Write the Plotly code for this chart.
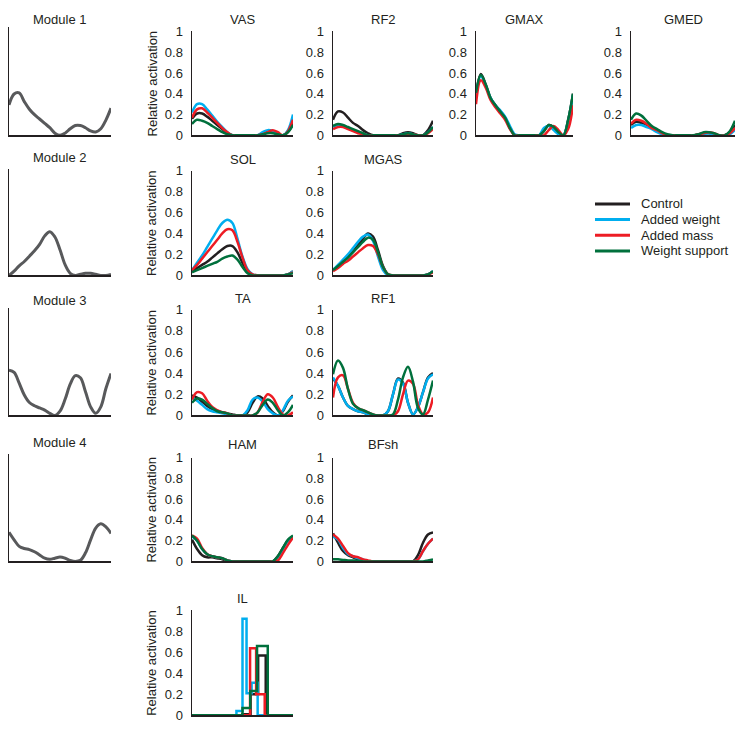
import plotly.graph_objects as go

# ---------------- data ----------------
PCT = [0, 5, 10, 15, 20, 25, 30, 35, 40, 45, 50, 55, 60, 65, 70, 75, 80, 85, 90, 95, 100]
Y_TICKS = [0, 0.2, 0.4, 0.6, 0.8, 1]
Y_TICK_TEXT = ["0", "0.2", "0.4", "0.6", "0.8", "1"]
SERIES = ["Control", "Added weight", "Added mass", "Weight support"]
COLORS = ["#231f20", "#00aeef", "#ed1c24", "#00703c"]

MODULE_1 = [0.28, 0.38, 0.39, 0.31, 0.24, 0.19, 0.15, 0.11, 0.07, 0.02, 0.0, 0.02, 0.06, 0.09, 0.09, 0.07, 0.04, 0.03, 0.06, 0.14, 0.25]
MODULE_2 = [0.0, 0.04, 0.09, 0.13, 0.18, 0.23, 0.29, 0.37, 0.41, 0.36, 0.24, 0.10, 0.02, 0.0, 0.01, 0.02, 0.02, 0.01, 0.0, 0.0, 0.01]
MODULE_3 = [0.42, 0.40, 0.30, 0.19, 0.12, 0.09, 0.07, 0.05, 0.02, 0.0, 0.04, 0.15, 0.29, 0.37, 0.35, 0.22, 0.08, 0.02, 0.08, 0.25, 0.39]
MODULE_4 = [0.27, 0.20, 0.14, 0.12, 0.11, 0.09, 0.06, 0.03, 0.02, 0.03, 0.04, 0.03, 0.01, 0.0, 0.01, 0.08, 0.20, 0.31, 0.35, 0.32, 0.26]

VAS_control = [0.16, 0.21, 0.21, 0.18, 0.14, 0.10, 0.06, 0.02, 0, 0, 0, 0, 0, 0, 0.02, 0.04, 0.03, 0.01, 0, 0.03, 0.12]
VAS_weight = [0.22, 0.30, 0.30, 0.25, 0.19, 0.13, 0.08, 0.03, 0, 0, 0, 0, 0, 0, 0.03, 0.05, 0.04, 0.01, 0, 0.05, 0.20]
VAS_mass = [0.17, 0.25, 0.26, 0.22, 0.17, 0.12, 0.07, 0.03, 0, 0, 0, 0, 0, 0, 0.01, 0.03, 0.05, 0.03, 0, 0.04, 0.15]
VAS_support = [0.11, 0.15, 0.14, 0.12, 0.09, 0.06, 0.03, 0.01, 0, 0, 0, 0, 0, 0, 0.01, 0.02, 0.02, 0.01, 0, 0.03, 0.10]

RF2_control = [0.15, 0.23, 0.22, 0.17, 0.12, 0.09, 0.05, 0.02, 0, 0, 0, 0, 0, 0, 0.02, 0.03, 0.02, 0, 0, 0.05, 0.14]
RF2_weight = [0.08, 0.10, 0.09, 0.07, 0.05, 0.03, 0.01, 0, 0, 0, 0, 0, 0, 0, 0.01, 0.02, 0.01, 0, 0, 0.03, 0.08]
RF2_mass = [0.06, 0.08, 0.08, 0.06, 0.04, 0.02, 0.01, 0, 0, 0, 0, 0, 0, 0, 0, 0.01, 0.01, 0, 0, 0.02, 0.06]
RF2_support = [0.09, 0.11, 0.10, 0.08, 0.06, 0.04, 0.02, 0, 0, 0, 0, 0, 0, 0, 0.01, 0.02, 0.01, 0, 0, 0.03, 0.08]

GMAX_control = [0.40, 0.59, 0.49, 0.36, 0.29, 0.23, 0.17, 0.07, 0, 0, 0, 0, 0, 0, 0.04, 0.10, 0.08, 0.03, 0, 0.15, 0.40]
GMAX_weight = [0.40, 0.57, 0.48, 0.36, 0.29, 0.24, 0.18, 0.09, 0.01, 0, 0, 0, 0, 0, 0.07, 0.09, 0.05, 0.01, 0, 0.14, 0.39]
GMAX_mass = [0.30, 0.53, 0.46, 0.34, 0.27, 0.21, 0.15, 0.06, 0, 0, 0, 0, 0, 0, 0, 0.05, 0.09, 0.05, 0, 0.06, 0.29]
GMAX_support = [0.41, 0.58, 0.49, 0.36, 0.29, 0.23, 0.17, 0.07, 0, 0, 0, 0, 0, 0, 0.04, 0.10, 0.08, 0.03, 0, 0.15, 0.40]

GMED_control = [0.10, 0.13, 0.12, 0.10, 0.07, 0.04, 0.02, 0, 0, 0, 0, 0, 0, 0.01, 0.02, 0.02, 0.01, 0, 0, 0.03, 0.10]
GMED_weight = [0.07, 0.10, 0.10, 0.08, 0.06, 0.03, 0.01, 0, 0, 0, 0, 0, 0, 0, 0.01, 0.02, 0, 0, 0, 0.01, 0.05]
GMED_mass = [0.11, 0.15, 0.14, 0.11, 0.07, 0.05, 0.02, 0, 0, 0, 0, 0, 0, 0.01, 0.02, 0.03, 0.02, 0, 0, 0.02, 0.07]
GMED_support = [0.15, 0.21, 0.19, 0.14, 0.09, 0.06, 0.03, 0.01, 0, 0, 0, 0, 0, 0.01, 0.03, 0.03, 0.02, 0, 0, 0.04, 0.14]

SOL_control = [0.04, 0.07, 0.10, 0.13, 0.17, 0.21, 0.25, 0.28, 0.28, 0.22, 0.12, 0.04, 0, 0, 0, 0, 0, 0, 0, 0.01, 0.04]
SOL_weight = [0.05, 0.12, 0.19, 0.27, 0.35, 0.43, 0.50, 0.53, 0.50, 0.35, 0.18, 0.06, 0.01, 0, 0, 0, 0, 0, 0, 0.01, 0.04]
SOL_mass = [0.05, 0.10, 0.16, 0.22, 0.28, 0.34, 0.40, 0.44, 0.43, 0.32, 0.17, 0.05, 0.01, 0, 0, 0, 0, 0, 0, 0.01, 0.03]
SOL_support = [0.03, 0.05, 0.07, 0.09, 0.11, 0.13, 0.16, 0.18, 0.19, 0.15, 0.08, 0.02, 0, 0, 0, 0, 0, 0, 0, 0.01, 0.02]

MGAS_control = [0.05, 0.09, 0.13, 0.18, 0.23, 0.29, 0.35, 0.40, 0.37, 0.24, 0.09, 0.01, 0, 0, 0, 0, 0, 0, 0, 0.01, 0.04]
MGAS_weight = [0.05, 0.10, 0.15, 0.20, 0.26, 0.32, 0.37, 0.39, 0.33, 0.18, 0.05, 0, 0, 0, 0, 0, 0, 0, 0, 0.01, 0.04]
MGAS_mass = [0.04, 0.07, 0.11, 0.14, 0.18, 0.22, 0.26, 0.29, 0.28, 0.20, 0.08, 0.01, 0, 0, 0, 0, 0, 0, 0, 0.01, 0.03]
MGAS_support = [0.05, 0.09, 0.13, 0.17, 0.22, 0.27, 0.32, 0.36, 0.34, 0.22, 0.08, 0.01, 0, 0, 0, 0, 0, 0, 0, 0.01, 0.04]

TA_control = [0.19, 0.17, 0.13, 0.09, 0.06, 0.04, 0.03, 0.02, 0.01, 0, 0, 0.03, 0.12, 0.18, 0.16, 0.09, 0.03, 0, 0.04, 0.13, 0.19]
TA_weight = [0.17, 0.14, 0.10, 0.06, 0.04, 0.03, 0.02, 0.01, 0, 0, 0, 0.05, 0.15, 0.17, 0.13, 0.06, 0.02, 0, 0.05, 0.14, 0.18]
TA_mass = [0.15, 0.22, 0.21, 0.14, 0.08, 0.05, 0.03, 0.02, 0, 0, 0, 0, 0, 0.03, 0.13, 0.20, 0.17, 0.08, 0.01, 0, 0.03]
TA_support = [0.12, 0.16, 0.15, 0.11, 0.07, 0.04, 0.03, 0.02, 0, 0, 0, 0, 0, 0.03, 0.10, 0.15, 0.12, 0.05, 0, 0.03, 0.10]

RF1_control = [0.35, 0.28, 0.17, 0.09, 0.06, 0.04, 0.03, 0.01, 0, 0, 0, 0.04, 0.20, 0.35, 0.31, 0.12, 0.01, 0.08, 0.22, 0.36, 0.40]
RF1_weight = [0.36, 0.28, 0.17, 0.09, 0.06, 0.04, 0.03, 0.01, 0, 0, 0, 0.04, 0.20, 0.34, 0.30, 0.12, 0.01, 0.08, 0.22, 0.35, 0.39]
RF1_mass = [0.17, 0.36, 0.38, 0.25, 0.12, 0.07, 0.05, 0.03, 0.01, 0, 0, 0, 0, 0.04, 0.20, 0.33, 0.30, 0.10, 0.01, 0.03, 0.17]
RF1_support = [0.39, 0.52, 0.45, 0.25, 0.11, 0.07, 0.05, 0.03, 0.01, 0, 0, 0, 0.01, 0.15, 0.36, 0.46, 0.32, 0.07, 0.01, 0.15, 0.33]

HAM_control = [0.21, 0.12, 0.06, 0.04, 0.04, 0.03, 0.02, 0, 0, 0, 0, 0, 0, 0, 0, 0, 0, 0.05, 0.13, 0.20, 0.24]
HAM_weight = [0.24, 0.20, 0.12, 0.07, 0.05, 0.04, 0.03, 0.01, 0, 0, 0, 0, 0, 0, 0, 0, 0, 0.04, 0.12, 0.20, 0.24]
HAM_mass = [0.25, 0.22, 0.13, 0.07, 0.05, 0.04, 0.03, 0.01, 0, 0, 0, 0, 0, 0, 0, 0, 0, 0.01, 0.08, 0.16, 0.23]
HAM_support = [0.25, 0.20, 0.12, 0.07, 0.05, 0.04, 0.03, 0.01, 0, 0, 0, 0, 0, 0, 0, 0, 0, 0.05, 0.13, 0.21, 0.25]

BFSH_control = [0.27, 0.18, 0.10, 0.06, 0.04, 0.02, 0.01, 0, 0, 0, 0, 0, 0, 0, 0, 0, 0, 0.06, 0.18, 0.26, 0.28]
BFSH_weight = [0.24, 0.21, 0.13, 0.07, 0.05, 0.03, 0.02, 0, 0, 0, 0, 0, 0, 0, 0, 0, 0, 0.02, 0.10, 0.17, 0.22]
BFSH_mass = [0.26, 0.22, 0.15, 0.08, 0.05, 0.04, 0.02, 0.01, 0, 0, 0, 0, 0, 0, 0, 0, 0, 0.02, 0.10, 0.17, 0.22]
BFSH_support = [0.02, 0.02, 0.015, 0.01, 0.01, 0.005, 0, 0, 0, 0, 0, 0, 0, 0, 0, 0, 0, 0, 0, 0.01, 0.02]

# IL is drawn as steps (x = step start, y = level)
IL_control_x = [0, 50, 58, 65.5, 73, 100]
IL_control_y = [0, 0.01, 0.2, 0.57, 0, 0]
IL_weight_x = [0, 44, 50, 54, 59, 65, 100]
IL_weight_y = [0, 0.04, 0.92, 0.21, 0.31, 0, 0]
IL_mass_x = [0, 57.5, 63.5, 72, 100]
IL_mass_y = [0, 0.64, 0.2, 0, 0]
IL_support_x = [0, 50, 57.7, 64.4, 75, 100]
IL_support_y = [0, 0.07, 0.23, 0.66, 0, 0]

# ---------------- layout geometry (pixels) ----------------
W, H = 742, 734
MUSCLE_ROWS = [(25, 131), (167, 274), (309, 417), (460, 566), (616, 723)]
MODULE_ROWS = [(20, 131), (165, 274), (307, 417), (456, 566)]
TITLE_Y = [13, 156, 298, 447, 604]
MODULE_TITLE_Y = [13, 154, 300, 445]
MUSCLE_COLS = [(192, 293), (333, 433), (476, 573), (631, 735)]
MODULE_COL = (9, 111)
FONT = "Arial, Liberation Sans, Helvetica, sans-serif"
INK = "#231f20"

muscles = [
    ("VAS", 0, 0, [VAS_control, VAS_weight, VAS_mass, VAS_support]),
    ("RF2", 0, 1, [RF2_control, RF2_weight, RF2_mass, RF2_support]),
    ("GMAX", 0, 2, [GMAX_control, GMAX_weight, GMAX_mass, GMAX_support]),
    ("GMED", 0, 3, [GMED_control, GMED_weight, GMED_mass, GMED_support]),
    ("SOL", 1, 0, [SOL_control, SOL_weight, SOL_mass, SOL_support]),
    ("MGAS", 1, 1, [MGAS_control, MGAS_weight, MGAS_mass, MGAS_support]),
    ("TA", 2, 0, [TA_control, TA_weight, TA_mass, TA_support]),
    ("RF1", 2, 1, [RF1_control, RF1_weight, RF1_mass, RF1_support]),
    ("HAM", 3, 0, [HAM_control, HAM_weight, HAM_mass, HAM_support]),
    ("BFsh", 3, 1, [BFSH_control, BFSH_weight, BFSH_mass, BFSH_support]),
]
modules = [MODULE_1, MODULE_2, MODULE_3, MODULE_4]
il_series = [(IL_control_x, IL_control_y), (IL_weight_x, IL_weight_y),
             (IL_mass_x, IL_mass_y), (IL_support_x, IL_support_y)]

fig = go.Figure()
layout = dict(width=W, height=H, margin=dict(l=0, r=0, t=0, b=0),
              paper_bgcolor="white", plot_bgcolor="white", showlegend=False,
              font=dict(family=FONT, size=13, color=INK))
annotations = []
shapes = []
ax_i = [0]


def px_x(a, b):
    return [a / W, b / W]


def px_y(t, b):
    return [1 - b / H, 1 - t / H]


def new_axes(xdom, ydom, with_ticks):
    ax_i[0] += 1
    i = ax_i[0]
    xs = "" if i == 1 else str(i)
    layout["xaxis" + xs] = dict(domain=xdom, range=[0, 100], anchor="y" + xs,
                                showline=True, linecolor=INK, linewidth=1.5,
                                showticklabels=False, ticks="", showgrid=False, zeroline=False)
    ydict = dict(domain=ydom, range=[0, 1], anchor="x" + xs,
                 showline=True, linecolor=INK, linewidth=1.5,
                 showgrid=False, zeroline=False)
    if with_ticks:
        ydict.update(tickvals=Y_TICKS, ticktext=Y_TICK_TEXT, ticks="outside",
                     ticklen=5, tickcolor="rgba(0,0,0,0)",
                     tickfont=dict(family=FONT, size=13, color=INK))
    else:
        ydict.update(showticklabels=False, ticks="")
    layout["yaxis" + xs] = ydict
    return "x" + xs, "y" + xs


def title(text, xdom, ypx):
    annotations.append(dict(text=text, x=(xdom[0] + xdom[1]) / 2, y=1 - ypx / H,
                            xref="paper", yref="paper", showarrow=False,
                            xanchor="center", yanchor="middle",
                            font=dict(family=FONT, size=13, color=INK)))


def ylabel(ydom):
    annotations.append(dict(text="Relative activation", x=152 / W, y=(ydom[0] + ydom[1]) / 2,
                            xref="paper", yref="paper", showarrow=False, textangle=-90,
                            xanchor="center", yanchor="middle",
                            font=dict(family=FONT, size=13, color=INK)))


# modules
for r, vals in enumerate(modules):
    xd = px_x(*MODULE_COL)
    yd = px_y(*MODULE_ROWS[r])
    xa, ya = new_axes(xd, yd, False)
    fig.add_trace(go.Scatter(x=PCT, y=vals, mode="lines", xaxis=xa, yaxis=ya,
                             line=dict(color="#58595b", width=3, shape="spline"),
                             hoverinfo="skip"))
    title("Module %d" % (r + 1), xd, MODULE_TITLE_Y[r])

# muscles
for name, r, c, series in muscles:
    xd = px_x(*MUSCLE_COLS[c])
    yd = px_y(*MUSCLE_ROWS[r])
    xa, ya = new_axes(xd, yd, True)
    for k, vals in enumerate(series):
        fig.add_trace(go.Scatter(x=PCT, y=vals, mode="lines", xaxis=xa, yaxis=ya,
                                 name=SERIES[k],
                                 line=dict(color=COLORS[k], width=2.5, shape="spline"),
                                 hoverinfo="skip"))
    title(name, xd, TITLE_Y[r])
    if c == 0:
        ylabel(yd)

# IL
xd = px_x(*MUSCLE_COLS[0])
yd = px_y(*MUSCLE_ROWS[4])
xa, ya = new_axes(xd, yd, True)
for k, (sx, sy) in enumerate(il_series):
    fig.add_trace(go.Scatter(x=sx, y=sy, mode="lines", xaxis=xa, yaxis=ya,
                             name=SERIES[k],
                             line=dict(color=COLORS[k], width=2.5, shape="hv"),
                             hoverinfo="skip"))
title("IL", xd, TITLE_Y[4])
ylabel(yd)

# legend (manual)
LEG_Y = [201, 217, 233, 249]
for k, name in enumerate(SERIES):
    yp = 1 - LEG_Y[k] / H
    shapes.append(dict(type="line", xref="paper", yref="paper",
                       x0=595 / W, x1=630 / W, y0=yp, y1=yp,
                       line=dict(color=COLORS[k], width=3)))
    annotations.append(dict(text=name, x=639 / W, y=yp, xref="paper", yref="paper",
                            showarrow=False, xanchor="left", yanchor="middle",
                            font=dict(family=FONT, size=13, color=INK)))

layout["annotations"] = annotations
layout["shapes"] = shapes
fig.update_layout(**layout)
fig.write_html("out.html", config={"displayModeBar": False, "staticPlot": True},
               post_script="document.body.style.margin='0px';document.body.style.overflow='hidden';")
